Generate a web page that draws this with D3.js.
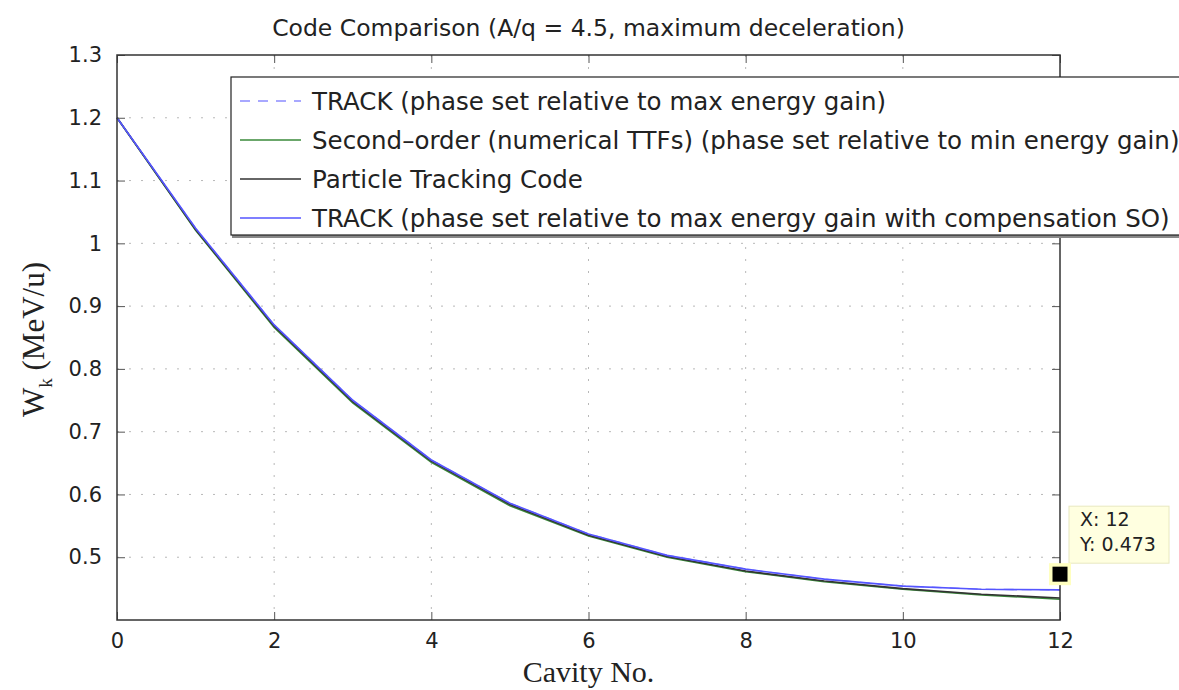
<!DOCTYPE html>
<html>
<head>
<meta charset="utf-8">
<script src="https://cdn.jsdelivr.net/npm/d3@7"></script>
<style>
  body { margin: 0; background: #fff; }
  text { font-family: "DejaVu Sans", "Liberation Sans", Arial, sans-serif; fill: #222; }
  .serif { font-family: "Liberation Serif", "Times New Roman", serif; }
</style>
</head>
<body>
<div id="chart"></div>
<script>
// Data
const cavities = [0, 1, 2, 3, 4, 5, 6, 7, 8, 9, 10, 11, 12];
const trackDashed = [1.2, 1.024, 0.870, 0.750, 0.655, 0.586, 0.537, 0.503, 0.481, 0.465, 0.454, 0.449, 0.448];
const secondOrder = [1.2, 1.021, 0.866, 0.746, 0.651, 0.582, 0.534, 0.500, 0.477, 0.461, 0.449, 0.440, 0.433];
const particleTracking = [1.2, 1.022, 0.868, 0.748, 0.653, 0.584, 0.535, 0.501, 0.478, 0.462, 0.450, 0.441, 0.435];
const trackCompSO = [1.2, 1.024, 0.870, 0.750, 0.655, 0.586, 0.537, 0.503, 0.481, 0.465, 0.454, 0.449, 0.448];
const xTicks = [0, 2, 4, 6, 8, 10, 12];
const yTicks = [0.5, 0.6, 0.7, 0.8, 0.9, 1, 1.1, 1.2, 1.3];
const dataTip = {x: 12, y: 0.473};

const seriesNames = [
  'TRACK (phase set relative to max energy gain)',
  'Second\u2013order (numerical TTFs) (phase set relative to min energy gain)',
  'Particle Tracking Code',
  'TRACK (phase set relative to max energy gain with compensation SO)'
];

const WIDTH = 1179, HEIGHT = 690;
const MARGIN = {top: 55, right: 119, bottom: 70, left: 117};
const innerW = WIDTH - MARGIN.left - MARGIN.right;
const innerH = HEIGHT - MARGIN.top - MARGIN.bottom;

const series = [
  {name: seriesNames[0], values: trackDashed, color: '#8c8cff', dash: '10,8', width: 1.3},
  {name: seriesNames[1], values: secondOrder, color: '#3a8a3a', dash: null, width: 1.6},
  {name: seriesNames[2], values: particleTracking, color: '#333333', dash: null, width: 1.6},
  {name: seriesNames[3], values: trackCompSO, color: '#5555ff', dash: null, width: 1.7}
];

const svg = d3.select('#chart').append('svg')
  .attr('width', WIDTH)
  .attr('height', HEIGHT);

const g = svg.append('g')
  .attr('transform', `translate(${MARGIN.left}, ${MARGIN.top})`);

const xScale = d3.scaleLinear().domain([0, 12]).range([0, innerW]);
const yScale = d3.scaleLinear().domain([0.4, 1.3]).range([innerH, 0]);

// Grid
g.append('g').selectAll('line')
  .data(xTicks.slice(1, -1))
  .enter().append('line')
  .attr('x1', d => xScale(d)).attr('x2', d => xScale(d))
  .attr('y1', 0).attr('y2', innerH)
  .attr('stroke', '#b8b8b8').attr('stroke-dasharray', '2,10');

g.append('g').selectAll('line')
  .data(yTicks.slice(0, -1))
  .enter().append('line')
  .attr('x1', 0).attr('x2', innerW)
  .attr('y1', d => yScale(d)).attr('y2', d => yScale(d))
  .attr('stroke', '#b8b8b8').attr('stroke-dasharray', '2,10');

// Lines
const line = d3.line()
  .x((d, i) => xScale(cavities[i]))
  .y(d => yScale(d));

g.append('g').selectAll('path')
  .data(series)
  .enter().append('path')
  .attr('d', d => line(d.values))
  .attr('fill', 'none')
  .attr('stroke', d => d.color)
  .attr('stroke-width', d => d.width)
  .attr('stroke-dasharray', d => d.dash);

// Axes, ticks inside on all sides
const xAxis = d3.axisBottom(xScale).tickValues(xTicks).tickSizeInner(-8).tickSizeOuter(0).tickPadding(13);
const yAxis = d3.axisLeft(yScale).tickValues(yTicks).tickSizeInner(-8).tickSizeOuter(0).tickPadding(15)
  .tickFormat(d3.format('~g'));

g.append('g').attr('transform', `translate(0, ${innerH})`).call(xAxis);
g.append('g').call(yAxis);
g.append('g').call(d3.axisTop(xScale).tickValues(xTicks).tickSizeInner(-8).tickSizeOuter(0).tickFormat(''));
g.append('g').attr('transform', `translate(${innerW}, 0)`)
  .call(d3.axisRight(yScale).tickValues(yTicks).tickSizeInner(-8).tickSizeOuter(0).tickFormat(''));

g.selectAll('.domain').remove();
g.selectAll('.tick line').attr('stroke', '#555');
g.selectAll('.tick text').style('font-size', '21px').attr('fill', '#222');

g.append('rect')
  .attr('width', innerW).attr('height', innerH)
  .attr('fill', 'none').attr('stroke', '#333').attr('stroke-width', 1.5);

// Title and axis labels
svg.append('text')
  .attr('x', MARGIN.left + innerW / 2).attr('y', 36)
  .attr('text-anchor', 'middle')
  .style('font-size', '23.5px')
  .text('Code Comparison (A/q = 4.5, maximum deceleration)');

svg.append('text')
  .attr('class', 'serif')
  .attr('x', MARGIN.left + innerW / 2).attr('y', 682)
  .attr('text-anchor', 'middle')
  .style('font-size', '30px')
  .text('Cavity No.');

const yLabel = svg.append('text')
  .attr('class', 'serif')
  .attr('transform', `translate(44, ${MARGIN.top + innerH / 2 + 2}) rotate(-90)`)
  .attr('text-anchor', 'middle')
  .style('font-size', '31px');
yLabel.append('tspan').text('W');
yLabel.append('tspan').attr('dy', 8).style('font-size', '19px').text('k');
yLabel.append('tspan').attr('dy', -8).text(' (MeV/u)');

// Legend
const legend = svg.append('g').attr('transform', 'translate(231, 77)');
legend.append('rect')
  .attr('x', 1).attr('y', 1).attr('width', 1000).attr('height', 160)
  .attr('fill', '#888');
legend.append('rect')
  .attr('width', 1000).attr('height', 158)
  .attr('fill', '#fff').attr('stroke', '#222').attr('stroke-width', 1.2);

const rows = legend.selectAll('g.row')
  .data(series)
  .enter().append('g')
  .attr('transform', (d, i) => `translate(0, ${24 + i * 39})`);
rows.append('line')
  .attr('x1', 9).attr('x2', 70).attr('y1', 0).attr('y2', 0)
  .attr('stroke', d => d.color)
  .attr('stroke-width', 1.5)
  .attr('stroke-dasharray', d => d.dash);
rows.append('text')
  .attr('x', 81).attr('y', 9)
  .style('font-size', '24.5px')
  .text(d => d.name);

// Data tip
const tipX = MARGIN.left + xScale(dataTip.x);
const tipY = MARGIN.top + yScale(dataTip.y);
svg.append('rect')
  .attr('x', tipX + 9).attr('y', tipY - 68).attr('width', 100).attr('height', 57)
  .attr('fill', '#ffffe0').attr('stroke', '#e8e8c0');
svg.append('text')
  .attr('x', tipX + 20).attr('y', tipY - 48)
  .style('font-size', '19px')
  .text(`X: ${dataTip.x}`);
svg.append('text')
  .attr('x', tipX + 20).attr('y', tipY - 23)
  .style('font-size', '19px')
  .text(`Y: ${dataTip.y}`);
svg.append('rect')
  .attr('x', tipX - 11).attr('y', tipY - 11).attr('width', 22).attr('height', 22)
  .attr('fill', '#ffffc0');
svg.append('rect')
  .attr('x', tipX - 7.5).attr('y', tipY - 7.5).attr('width', 15).attr('height', 15)
  .attr('fill', '#000');
</script>
</body>
</html>
